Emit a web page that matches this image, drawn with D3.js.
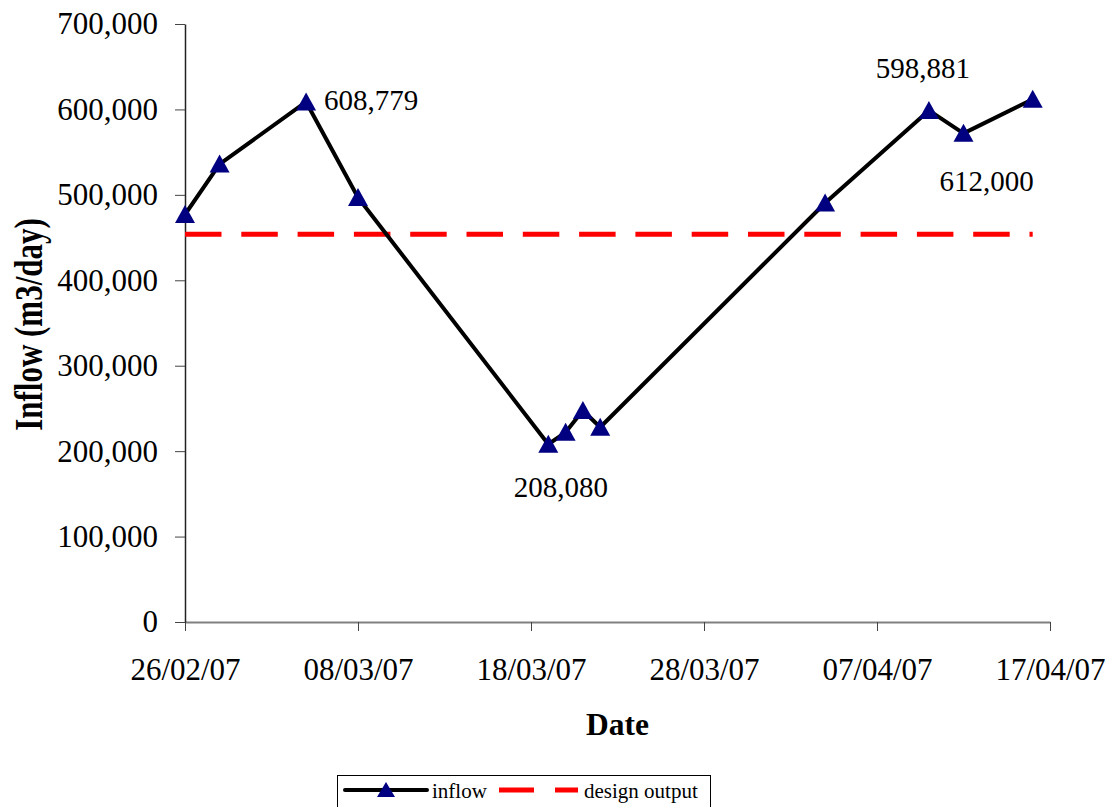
<!DOCTYPE html>
<html>
<head>
<meta charset="utf-8">
<script src="https://cdn.jsdelivr.net/npm/d3@7"></script>
<style>
  html, body { margin: 0; padding: 0; background: #fff; }
  svg { display: block; font-family: "Liberation Serif", "Times New Roman", serif; }
</style>
</head>
<body>
<svg id="chart" width="1116" height="807"></svg>
<script>
// Daily inflow readings (m3/day)
const dates = ["2007-02-26", "2007-02-28", "2007-03-05", "2007-03-08", "2007-03-19", "2007-03-20",
               "2007-03-21", "2007-03-22", "2007-04-04", "2007-04-10", "2007-04-12", "2007-04-16"];
const inflow = [477000, 536000, 608779, 497000, 208080, 222000, 247500, 228000, 490500, 598881, 572000, 612000];

// Plant design output, constant across the period
const designDates = ["2007-02-26", "2007-04-16"];
const designOutput = [454000, 454000];

// Axis ticks
const xTickDates = ["2007-02-26", "2007-03-08", "2007-03-18", "2007-03-28", "2007-04-07", "2007-04-17"];
const yTicks = [0, 100000, 200000, 300000, 400000, 500000, 600000, 700000];

// Labelled points: index into the series and the text shown
const labelIdx = [2, 4, 9, 11];
const labelText = ["608,779", "208,080", "598,881", "612,000"];

const parse = d3.utcParse("%Y-%m-%d");
const fmtDate = d3.utcFormat("%d/%m/%y");
const fmtNum = d3.format(",");

const svg = d3.select("#chart");
const plotLeft = 185, plotRight = 1050, plotTop = 24, plotBottom = 622;

const x = d3.scaleUtc()
  .domain([parse("2007-02-26"), parse("2007-04-17")])
  .range([plotLeft, plotRight]);
const y = d3.scaleLinear().domain([0, 700000]).range([plotBottom, plotTop]);

// X axis
const xAxis = svg.append("g")
  .attr("transform", `translate(0,${plotBottom})`)
  .call(d3.axisBottom(x).tickValues(xTickDates.map(parse)).tickFormat(fmtDate)
    .tickSize(9).tickSizeOuter(0));
xAxis.select(".domain").attr("stroke", "#808080").attr("stroke-width", 2);
xAxis.selectAll(".tick line").attr("stroke", "#444").attr("stroke-width", 1);
xAxis.selectAll(".tick text")
  .attr("font-size", 31).attr("fill", "#000")
  .attr("font-family", "Liberation Serif, serif")
  .attr("y", 58).attr("dy", 0);

// Y axis
const yAxis = svg.append("g")
  .attr("transform", `translate(${plotLeft},0)`)
  .call(d3.axisLeft(y).tickValues(yTicks).tickFormat(fmtNum)
    .tickSize(10).tickSizeOuter(0).tickPadding(17));
yAxis.select(".domain").attr("stroke", "#222").attr("stroke-width", 1.5);
yAxis.selectAll(".tick line").attr("stroke", "#444").attr("stroke-width", 1);
yAxis.selectAll(".tick text")
  .attr("font-size", 31).attr("fill", "#000")
  .attr("font-family", "Liberation Serif, serif");

// Axis titles
svg.append("text")
  .attr("transform", `translate(42,${(plotTop + plotBottom) / 2 + 1.5}) rotate(-90) scale(1,1.3)`)
  .attr("text-anchor", "middle")
  .attr("font-size", 31).attr("font-weight", "bold")
  .text("Inflow (m3/day)");
svg.append("text")
  .attr("x", 617.5).attr("y", 735)
  .attr("text-anchor", "middle")
  .attr("font-size", 31.5).attr("font-weight", "bold")
  .text("Date");

// Design output reference line
const designData = designDates.map((d, i) => ({ date: parse(d), value: designOutput[i] }));
svg.append("path")
  .datum(designData)
  .attr("fill", "none")
  .attr("stroke", "#ff0000")
  .attr("stroke-width", 5)
  .attr("stroke-dasharray", "36.5,19.8")
  .attr("d", d3.line().x(d => x(d.date)).y(d => y(d.value)));

// Inflow series
const inflowData = dates.map((d, i) => ({ date: parse(d), value: inflow[i] }));
svg.append("path")
  .datum(inflowData)
  .attr("fill", "none")
  .attr("stroke", "#000")
  .attr("stroke-width", 4)
  .attr("stroke-linejoin", "round")
  .attr("d", d3.line().x(d => x(d.date)).y(d => y(d.value)));

const tri = "M0,-9.5 L10,8.5 L-10,8.5 Z";
svg.append("g").selectAll("path")
  .data(inflowData)
  .join("path")
  .attr("transform", d => `translate(${x(d.date)},${y(d.value)})`)
  .attr("d", tri)
  .attr("fill", "#000080");

// Point value labels: [dx, dy, anchor] relative to the labelled point
const labelOffsets = [[18, 8, "start"], [12.5, 53, "middle"], [-6, -32, "middle"], [-46, 92, "middle"]];
svg.append("g").selectAll("text")
  .data(labelIdx)
  .join("text")
  .attr("x", (d, i) => x(inflowData[d].date) + labelOffsets[i][0])
  .attr("y", (d, i) => y(inflowData[d].value) + labelOffsets[i][1])
  .attr("text-anchor", (d, i) => labelOffsets[i][2])
  .attr("font-size", 29)
  .text((d, i) => labelText[i]);

// Legend
const lg = svg.append("g").attr("transform", "translate(337,775)");
lg.append("rect").attr("x", 0.5).attr("y", 0.5).attr("width", 373).attr("height", 40)
  .attr("fill", "#fff").attr("stroke", "#000").attr("stroke-width", 1);
lg.append("line").attr("x1", 8).attr("x2", 90).attr("y1", 15).attr("y2", 15)
  .attr("stroke", "#000").attr("stroke-width", 4).attr("stroke-linecap", "round");
lg.append("path").attr("transform", "translate(49,15)").attr("d", "M0,-8 L9,7 L-9,7 Z").attr("fill", "#000080");
lg.append("text").attr("x", 95).attr("y", 23).attr("font-size", 21).text("inflow");
lg.append("line").attr("x1", 162).attr("x2", 241).attr("y1", 15).attr("y2", 15)
  .attr("stroke", "#ff0000").attr("stroke-width", 5).attr("stroke-dasharray", "35,21");
lg.append("text").attr("x", 247).attr("y", 23).attr("font-size", 21).text("design output");
</script>
</body>
</html>
